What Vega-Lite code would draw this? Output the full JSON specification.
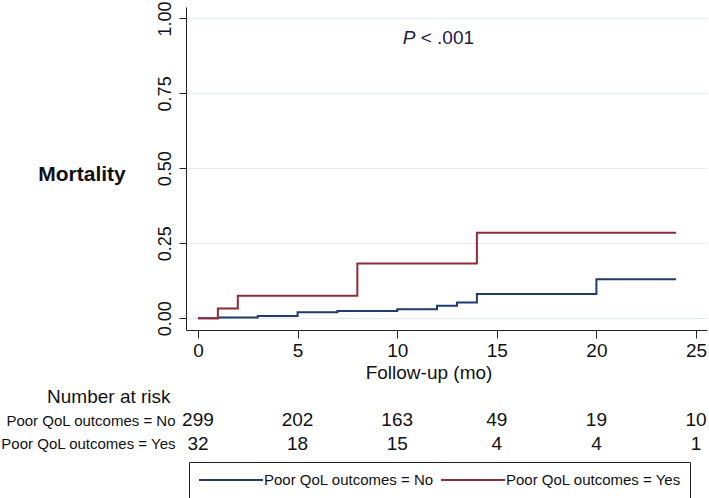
{
  "$schema": "https://vega.github.io/schema/vega-lite/v6.json",
  "padding": {"left": 0, "top": 0, "right": 2, "bottom": 0},
  "background": "white",
  "config": {
    "font": "Liberation Sans",
    "view": {"stroke": null},
    "concat": {"spacing": 5.5}
  },
  "datasets": {
    "curves": [
      {"group": "Poor QoL outcomes = No", "month": 0, "mortality": 0},
      {"group": "Poor QoL outcomes = No", "month": 1, "mortality": 0.003},
      {"group": "Poor QoL outcomes = No", "month": 3, "mortality": 0.008},
      {"group": "Poor QoL outcomes = No", "month": 5, "mortality": 0.02},
      {"group": "Poor QoL outcomes = No", "month": 7, "mortality": 0.024},
      {"group": "Poor QoL outcomes = No", "month": 10, "mortality": 0.03},
      {"group": "Poor QoL outcomes = No", "month": 12, "mortality": 0.042},
      {"group": "Poor QoL outcomes = No", "month": 13, "mortality": 0.053},
      {"group": "Poor QoL outcomes = No", "month": 14, "mortality": 0.081},
      {"group": "Poor QoL outcomes = No", "month": 20, "mortality": 0.13},
      {"group": "Poor QoL outcomes = No", "month": 24, "mortality": 0.13},
      {"group": "Poor QoL outcomes = Yes", "month": 0, "mortality": 0},
      {"group": "Poor QoL outcomes = Yes", "month": 1, "mortality": 0.033},
      {"group": "Poor QoL outcomes = Yes", "month": 2, "mortality": 0.075},
      {"group": "Poor QoL outcomes = Yes", "month": 8, "mortality": 0.183},
      {"group": "Poor QoL outcomes = Yes", "month": 14, "mortality": 0.285},
      {"group": "Poor QoL outcomes = Yes", "month": 24, "mortality": 0.285}
    ],
    "risk": [
      {"group": "Poor QoL outcomes = No", "month": 0, "atrisk": 299},
      {"group": "Poor QoL outcomes = No", "month": 5, "atrisk": 202},
      {"group": "Poor QoL outcomes = No", "month": 10, "atrisk": 163},
      {"group": "Poor QoL outcomes = No", "month": 15, "atrisk": 49},
      {"group": "Poor QoL outcomes = No", "month": 20, "atrisk": 19},
      {"group": "Poor QoL outcomes = No", "month": 25, "atrisk": 10},
      {"group": "Poor QoL outcomes = Yes", "month": 0, "atrisk": 32},
      {"group": "Poor QoL outcomes = Yes", "month": 5, "atrisk": 18},
      {"group": "Poor QoL outcomes = Yes", "month": 10, "atrisk": 15},
      {"group": "Poor QoL outcomes = Yes", "month": 15, "atrisk": 4},
      {"group": "Poor QoL outcomes = Yes", "month": 20, "atrisk": 4},
      {"group": "Poor QoL outcomes = Yes", "month": 25, "atrisk": 1}
    ]
  },
  "vconcat": [
    {
      "width": 521,
      "height": 323,
      "layer": [
        {
          "data": {"name": "curves"},
          "mark": {"type": "line", "interpolate": "step-after", "strokeWidth": 2},
          "encoding": {
            "x": {
              "field": "month", "type": "quantitative",
              "scale": {"domain": [-0.6, 25.55], "nice": false, "zero": false},
              "axis": {
                "values": [0, 5, 10, 15, 20, 25], "labelAngle": 0, "labelFontSize": 19,
                "labelColor": "#111", "labelPadding": 3, "tickSize": 8, "tickColor": "#222",
                "domainColor": "#222", "grid": false,
                "title": "Follow-up (mo)", "titleFontSize": 19, "titleFontWeight": "normal",
                "titleColor": "#111", "titleX": 242.5, "titleY": 42, "titleAlign": "center",
                "titleBaseline": "middle"
              }
            },
            "y": {
              "field": "mortality", "type": "quantitative",
              "scale": {"domain": [-0.039, 1.038], "nice": false, "zero": false},
              "axis": {
                "values": [0, 0.25, 0.5, 0.75, 1], "format": ".2f", "labelAngle": -90,
                "labelFontSize": 18, "labelColor": "#111", "labelPadding": 5, "tickSize": 7,
                "tickColor": "#222", "domainColor": "#222", "grid": true, "gridColor": "#e2ebef",
                "title": "Mortality", "titleAngle": 0, "titleFontWeight": "bold", "titleFontSize": 21,
                "titleColor": "#111", "titleX": -104.5, "titleY": 167, "titleAlign": "center",
                "titleBaseline": "middle"
              }
            },
            "color": {
              "field": "group", "type": "nominal",
              "scale": {"domain": ["Poor QoL outcomes = No", "Poor QoL outcomes = Yes"], "range": ["#1f3c6b", "#922a39"]},
              "legend": {
                "orient": "none", "legendX": 3, "legendY": 455, "direction": "horizontal",
                "title": null, "symbolType": "stroke", "symbolSize": 4096, "symbolStrokeWidth": 2,
                "clipHeight": 18,
                "labelFontSize": 15, "labelColor": "#111", "labelOffset": 0, "columnPadding": 6,
                "strokeColor": "#222", "padding": 9, "fillColor": "white", "labelLimit": 300
              }
            }
          }
        },
        {
          "data": {"values": [{}]},
          "mark": {"type": "text", "text": "P", "fontStyle": "italic", "fontSize": 19, "align": "left", "baseline": "middle", "color": "#1b2040"},
          "encoding": {"x": {"datum": 10.28}, "y": {"datum": 0.935}}
        },
        {
          "data": {"values": [{}]},
          "mark": {"type": "text", "text": "< .001", "fontSize": 19, "align": "left", "baseline": "middle", "color": "#1b2040"},
          "encoding": {"x": {"datum": 11.18}, "y": {"datum": 0.935}}
        }
      ]
    },
    {
      "width": 521,
      "height": 47,
      "title": {"text": "Number at risk", "anchor": "start", "dx": 47, "fontSize": 19, "fontWeight": "normal", "color": "#111", "offset": 2},
      "data": {"name": "risk"},
      "mark": {"type": "text", "fontSize": 19, "color": "#111", "baseline": "middle"},
      "encoding": {
        "x": {"field": "month", "type": "quantitative", "scale": {"domain": [-0.6, 25.55], "nice": false, "zero": false}, "axis": null},
        "y": {
          "field": "group", "type": "nominal", "scale": {"type": "point", "padding": 0.5},
          "axis": {"title": null, "domain": false, "ticks": false, "labelFontSize": 15, "labelColor": "#111", "labelPadding": 11, "labelLimit": 300}
        },
        "text": {"field": "atrisk", "type": "quantitative"}
      }
    }
  ]
}
